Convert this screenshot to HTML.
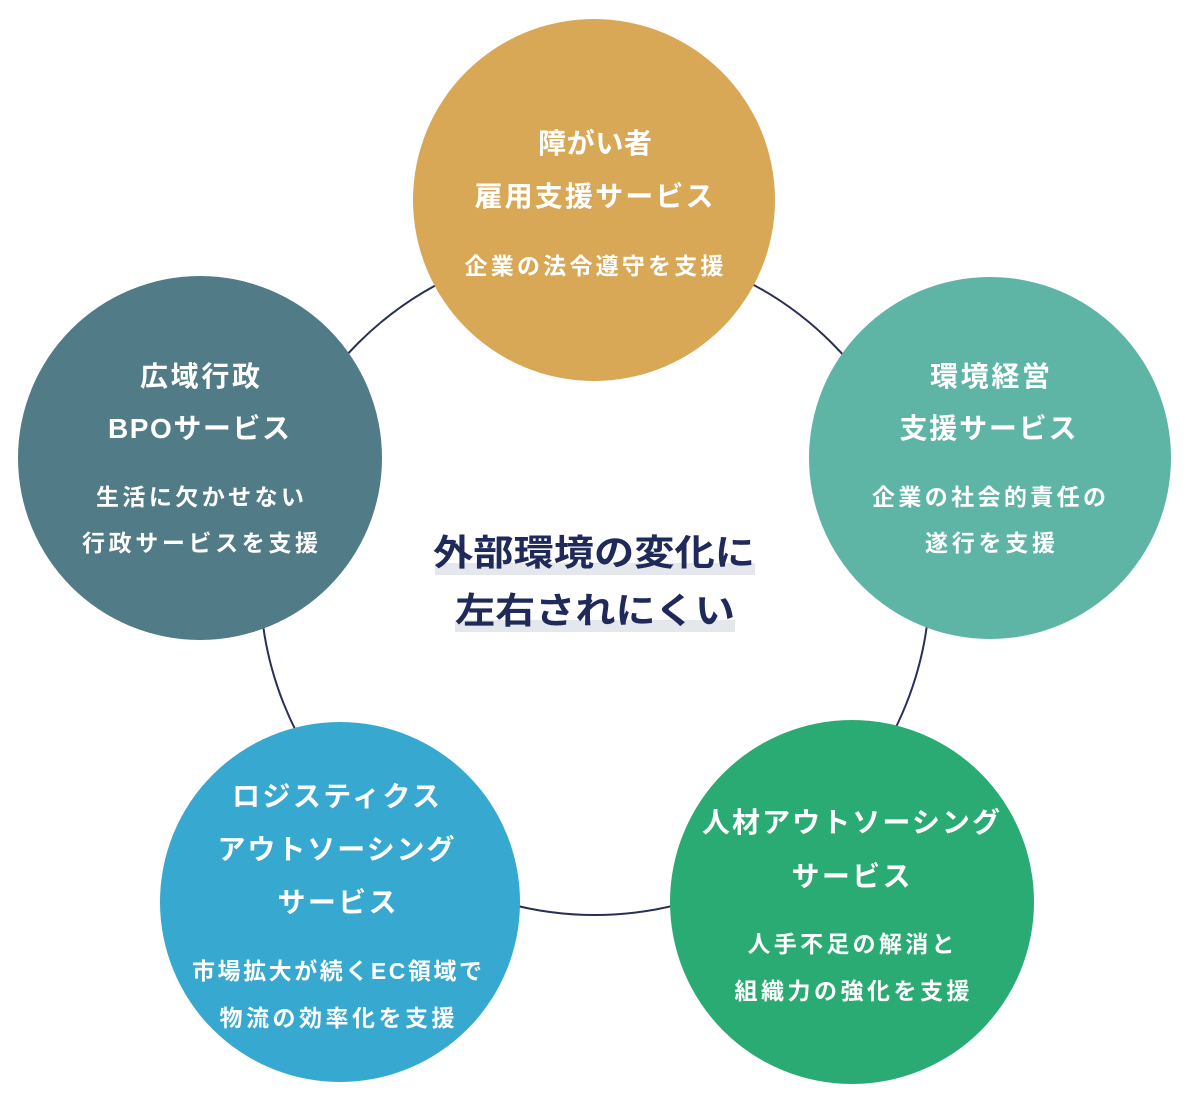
<!DOCTYPE html>
<html><head><meta charset="utf-8"><style>
html,body{margin:0;padding:0;background:#fff;}
svg{display:block}
text{font-family:"Liberation Sans","Noto Sans CJK JP",sans-serif;font-weight:bold;text-anchor:middle;}
.t{font-size:28px;fill:#fff}
.b{font-size:23px;fill:#fff}
.c{font-size:36px;fill:#1f2a5a}
</style></head><body>
<svg width="1192" height="1108" viewBox="0 0 1192 1108">
<circle cx="595" cy="580" r="335" fill="none" stroke="#2a2f55" stroke-width="2"/>
<rect x="435" y="563" width="320" height="12" fill="#e4e7ec"/>
<rect x="455" y="620" width="280" height="12" fill="#e4e7ec"/>
<text class="c" x="594" y="565" textLength="322" lengthAdjust="spacingAndGlyphs">外部環境の変化に</text>
<text class="c" x="595" y="623" textLength="280" lengthAdjust="spacingAndGlyphs">左右されにくい</text>

<circle cx="594" cy="200" r="181" fill="#d8a857"/>
<text class="t" x="595" y="153" textLength="114">障がい者</text>
<text class="t" x="594" y="206" textLength="239">雇用支援サービス</text>
<text class="b" x="594" y="274" textLength="259">企業の法令遵守を支援</text>

<circle cx="990" cy="458" r="181" fill="#5fb5a5"/>
<text class="t" x="990" y="386" textLength="120">環境経営</text>
<text class="t" x="988" y="438" textLength="177">支援サービス</text>
<text class="b" x="989" y="505" textLength="234">企業の社会的責任の</text>
<text class="b" x="990" y="551" textLength="130">遂行を支援</text>

<circle cx="200" cy="458" r="182" fill="#517b86"/>
<text class="t" x="200" y="386" textLength="120">広域行政</text>
<text class="t" x="199" y="438" textLength="182">BPOサービス</text>
<text class="b" x="200" y="505" textLength="208">生活に欠かせない</text>
<text class="b" x="200" y="551" textLength="236">行政サービスを支援</text>

<circle cx="340" cy="902" r="180" fill="#37a8cf"/>
<text class="t" x="336" y="806" textLength="208">ロジスティクス</text>
<text class="t" x="336" y="859" textLength="237">アウトソーシング</text>
<text class="t" x="337" y="912" textLength="119">サービス</text>
<text class="b" x="337" y="979" textLength="290">市場拡大が続くEC領域で</text>
<text class="b" x="337" y="1026" textLength="235">物流の効率化を支援</text>

<circle cx="852" cy="902" r="182" fill="#2bab74"/>
<text class="t" x="851" y="832" textLength="298">人材アウトソーシング</text>
<text class="t" x="851" y="886" textLength="119">サービス</text>
<text class="b" x="851" y="952" textLength="207">人手不足の解消と</text>
<text class="b" x="852" y="999" textLength="235">組織力の強化を支援</text>
</svg>
</body></html>
